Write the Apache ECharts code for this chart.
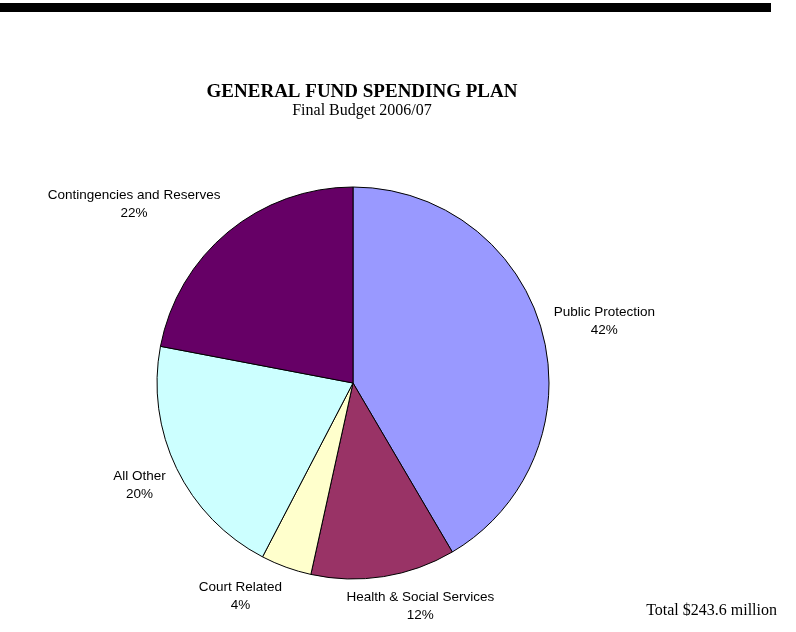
<!DOCTYPE html>
<html>
<head>
<meta charset="utf-8">
<script src="https://cdn.jsdelivr.net/npm/echarts@6/dist/echarts.min.js"></script>
<style>
  html, body { margin: 0; padding: 0; background: #fff; }
  #chart { width: 796px; height: 632px; }
</style>
</head>
<body>
<div id="chart"></div>
<script>
// spending categories, clockwise from 12 o'clock
const categories = ['Public Protection', 'Health & Social Services', 'Court Related', 'All Other', 'Contingencies and Reserves']
// $ millions (total 243.6)
const amounts = [101.2, 29.0, 10.2, 49.6, 53.6]
const sliceColors = ['#9999FF', '#993366', '#FFFFCC', '#CCFFFF', '#660066']

const cx = 353
const cy = 383
const r = 196

const total = amounts.reduce((a, b) => a + b, 0)

// mid angle of each slice (radians, clockwise from top)
const midAngles = []
let acc = 0
amounts.forEach(v => {
  midAngles.push((acc + v / 2) / total * Math.PI * 2)
  acc += v
})

function clamp(v) {
  return Math.max(0, Math.min(1, v))
}

const chart = echarts.init(document.getElementById('chart'))
chart.setOption({
  backgroundColor: '#fff',
  animation: false,
  title: {
    text: 'GENERAL FUND SPENDING PLAN',
    subtext: 'Final Budget 2006/07',
    left: 357,
    textAlign: 'center',
    top: 78,
    itemGap: 1,
    textStyle: {
      fontFamily: 'Liberation Serif',
      fontWeight: 'bold',
      fontSize: 19,
      color: '#000'
    },
    subtextStyle: {
      fontFamily: 'Liberation Serif',
      fontSize: 16,
      color: '#000'
    }
  },
  graphic: [{
    type: 'rect',
    shape: { x: 0, y: 3, width: 771, height: 9 },
    style: { fill: '#000' }
  }, {
    type: 'text',
    right: 19,
    top: 603,
    style: {
      text: 'Total $243.6 million',
      fontFamily: 'Liberation Serif',
      fontSize: 16,
      fill: '#000'
    }
  }],
  series: [{
    type: 'pie',
    center: [cx, cy],
    radius: r,
    startAngle: 90,
    clockwise: true,
    avoidLabelOverlap: false,
    itemStyle: {
      borderColor: '#000',
      borderWidth: 1
    },
    label: {
      show: true,
      position: 'outside',
      fontFamily: 'Liberation Sans',
      fontSize: 13.5,
      lineHeight: 18,
      color: '#000',
      align: 'center',
      formatter: p => p.name + '\n' + Math.round(p.percent) + '%'
    },
    labelLine: { show: false },
    labelLayout: params => {
      const a = midAngles[params.dataIndex]
      const dx = Math.sin(a)
      const dy = -Math.cos(a)
      const ax = cx + (r + 12) * dx
      const ay = cy + (r + 12) * dy
      const w = params.labelRect.width
      const h = params.labelRect.height
      const fx = clamp(0.5 - 1.5 * dx)
      const fy = clamp(0.5 - 0.75 * dy)
      return {
        x: ax + w * (0.5 - fx),
        y: ay + h * (0.5 - fy),
        align: 'center',
        verticalAlign: 'middle'
      }
    },
    emphasis: { disabled: true },
    data: categories.map((name, i) => ({
      name: name,
      value: amounts[i],
      itemStyle: { color: sliceColors[i] }
    }))
  }]
})
</script>
</body>
</html>
